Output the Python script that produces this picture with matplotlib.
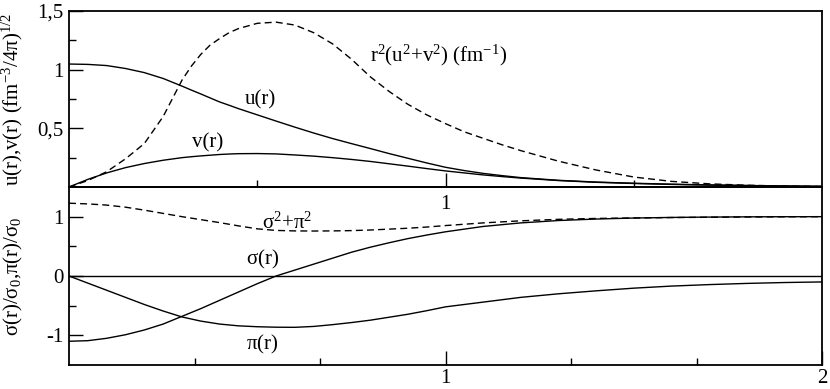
import matplotlib
matplotlib.use("Agg")
import matplotlib.pyplot as plt

plt.rcParams['font.family'] = ['Liberation Serif', 'DejaVu Serif']
plt.rcParams['mathtext.fontset'] = 'custom'
plt.rcParams['mathtext.rm'] = 'Liberation Serif'
plt.rcParams['mathtext.it'] = 'Liberation Serif'
plt.rcParams['mathtext.default'] = 'rm'

# ---- data ----
r_top = [0, 0.05, 0.1, 0.15, 0.2, 0.25, 0.3, 0.325, 0.35, 0.375, 0.4, 0.425, 0.45, 0.5,
         0.55, 0.6, 0.65, 0.7, 0.75, 0.8, 0.85, 0.9, 0.95, 1.0, 1.05, 1.1, 1.15, 1.2, 1.3,
         1.4, 1.5, 1.6, 1.7, 1.8, 1.9, 2.0]
u_r = [1.048, 1.045, 1.035, 1.01, 0.975, 0.925, 0.86, 0.826, 0.793, 0.759, 0.725, 0.697,
       0.668, 0.615, 0.562, 0.51, 0.46, 0.413, 0.37, 0.328, 0.285, 0.245, 0.205, 0.168,
       0.14, 0.116, 0.097, 0.08, 0.057, 0.042, 0.032, 0.024, 0.018, 0.013, 0.009, 0.006]
v_r = [0, 0.065, 0.12, 0.165, 0.2, 0.228, 0.25, 0.258, 0.265, 0.271, 0.277, 0.281, 0.284,
       0.285, 0.282, 0.273, 0.263, 0.25, 0.235, 0.218, 0.198, 0.178, 0.157, 0.137, 0.12,
       0.103, 0.089, 0.076, 0.055, 0.04, 0.03, 0.022, 0.016, 0.012, 0.008, 0.005]
dens_r = [0, 0.055, 0.13, 0.24, 0.37, 0.6, 0.91, 1.03, 1.13, 1.21, 1.265, 1.315, 1.35,
          1.395, 1.405, 1.38, 1.315, 1.22, 1.09, 0.94, 0.815, 0.705, 0.615, 0.54, 0.47,
          0.415, 0.36, 0.31, 0.22, 0.145, 0.085, 0.048, 0.027, 0.015, 0.008, 0.004]

r_bot = [0, 0.05, 0.1, 0.15, 0.2, 0.25, 0.3, 0.35, 0.4, 0.45, 0.5, 0.55, 0.6, 0.65, 0.7,
         0.75, 0.8, 0.85, 0.9, 0.95, 1.0, 1.1, 1.2, 1.3, 1.4, 1.5, 1.6, 1.7, 1.8, 1.9, 2.0]
sigma_r = [-1.1, -1.09, -1.05, -0.99, -0.91, -0.81, -0.68, -0.55, -0.41, -0.27, -0.13, 0.0,
           0.1, 0.2, 0.3, 0.4, 0.485, 0.56, 0.63, 0.69, 0.745, 0.835, 0.895, 0.935, 0.96,
           0.977, 0.987, 0.993, 0.997, 0.999, 1.0]
pi_r = [0, -0.12, -0.24, -0.36, -0.48, -0.59, -0.69, -0.76, -0.81, -0.84, -0.855, -0.863,
        -0.865, -0.85, -0.82, -0.785, -0.745, -0.695, -0.645, -0.585, -0.52, -0.44, -0.36,
        -0.3, -0.25, -0.205, -0.17, -0.145, -0.125, -0.11, -0.1]
sum_r = [1.227, 1.215, 1.195, 1.16, 1.11, 1.055, 1.0, 0.95, 0.9, 0.845, 0.795, 0.768, 0.76,
         0.758, 0.76, 0.765, 0.775, 0.79, 0.805, 0.825, 0.85, 0.895, 0.93, 0.955, 0.97,
         0.978, 0.985, 0.99, 0.995, 0.998, 1.0]

top_yticks = [0.5, 1.0, 1.5]
top_yticklabels = ['0,5', '1', '1,5']
bot_yticks = [-1, 0, 1]
bot_yticklabels = ['-1', '0', '1']

W, H = 830, 389
fig = plt.figure(figsize=(W / 100, H / 100), dpi=100)
left, right = 69 / W, 822 / W
ax1 = fig.add_axes([left, 1 - 187 / H, right - left, (187 - 11) / H])
ax2 = fig.add_axes([left, 1 - 365 / H, right - left, (365 - 187) / H])

lw = 1.0
dash = (0, (5, 3))
ax1.plot(r_top, u_r, color='black', lw=lw)
ax1.plot(r_top, v_r, color='black', lw=lw)
ax1.plot(r_top, dens_r, color='black', lw=lw, ls=dash)
ax1.set_xlim(0, 2)
ax1.set_ylim(0, 1.5)

ax2.axhline(0, color='black', lw=lw)
ax2.plot(r_bot, sigma_r, color='black', lw=lw)
ax2.plot(r_bot, pi_r, color='black', lw=lw)
ax2.plot(r_bot, sum_r, color='black', lw=lw, ls=dash)
ax2.set_xlim(0, 2)
ax2.set_ylim(-1.5, 1.5)

for ax in (ax1, ax2):
    ax.set_facecolor('none')
    for s in ax.spines.values():
        s.set_linewidth(1.3)
    ax.tick_params(which='both', direction='in', top=False, right=False,
                   labelsize=15, width=1.0, pad=4)
    ax.tick_params(which='major', length=10)
    ax.tick_params(which='minor', length=5)

ax1.set_yticks(top_yticks)
ax1.set_yticklabels(top_yticklabels)
ax1.set_yticks([0.25, 0.75, 1.25], minor=True)
ax1.set_xticks([1])
ax1.set_xticklabels(['1'])
ax1.set_xticks([0.5, 1.5], minor=True)
ax1.tick_params(axis='x', pad=6)

ax2.set_yticks(bot_yticks)
ax2.set_yticklabels(bot_yticklabels)
ax2.set_yticks([-0.5, 0.5], minor=True)
ax2.set_xticks([1, 2])
ax2.set_xticklabels(['1', '2'])
ax2.set_xticks([1 / 3, 2 / 3, 4 / 3, 5 / 3], minor=True)
ax2.tick_params(axis='x', pad=3)

ax1.set_ylabel(r'u(r),v(r) (fm$^{-3}$/4$\pi$)$^{1/2}$', fontsize=15)
ax2.set_ylabel(r'$\sigma$(r)/$\sigma_0$,$\pi$(r)/$\sigma_0$', fontsize=15)
ax1.yaxis.set_label_coords(-0.058, 0.5)
ax2.yaxis.set_label_coords(-0.058, 0.5)

fs = 15
ax1.text(0.80, 1.12, r'r$^2$(u$^2$+v$^2$) (fm$^{-1}$)', fontsize=fs, va='center', ha='left')
ax1.text(0.467, 0.74, 'u(r)', fontsize=fs, va='center', ha='left')
ax1.text(0.326, 0.38, 'v(r)', fontsize=fs, va='center', ha='left')
ax2.text(0.512, 0.79, r'$\sigma^2$+$\pi^2$', fontsize=fs, va='baseline', ha='left')
ax2.text(0.47, 0.28, r'$\sigma$(r)', fontsize=fs, va='center', ha='left')
ax2.text(0.47, -1.16, r'$\pi$(r)', fontsize=fs, va='center', ha='left')

fig.savefig('out.png', dpi=100)
